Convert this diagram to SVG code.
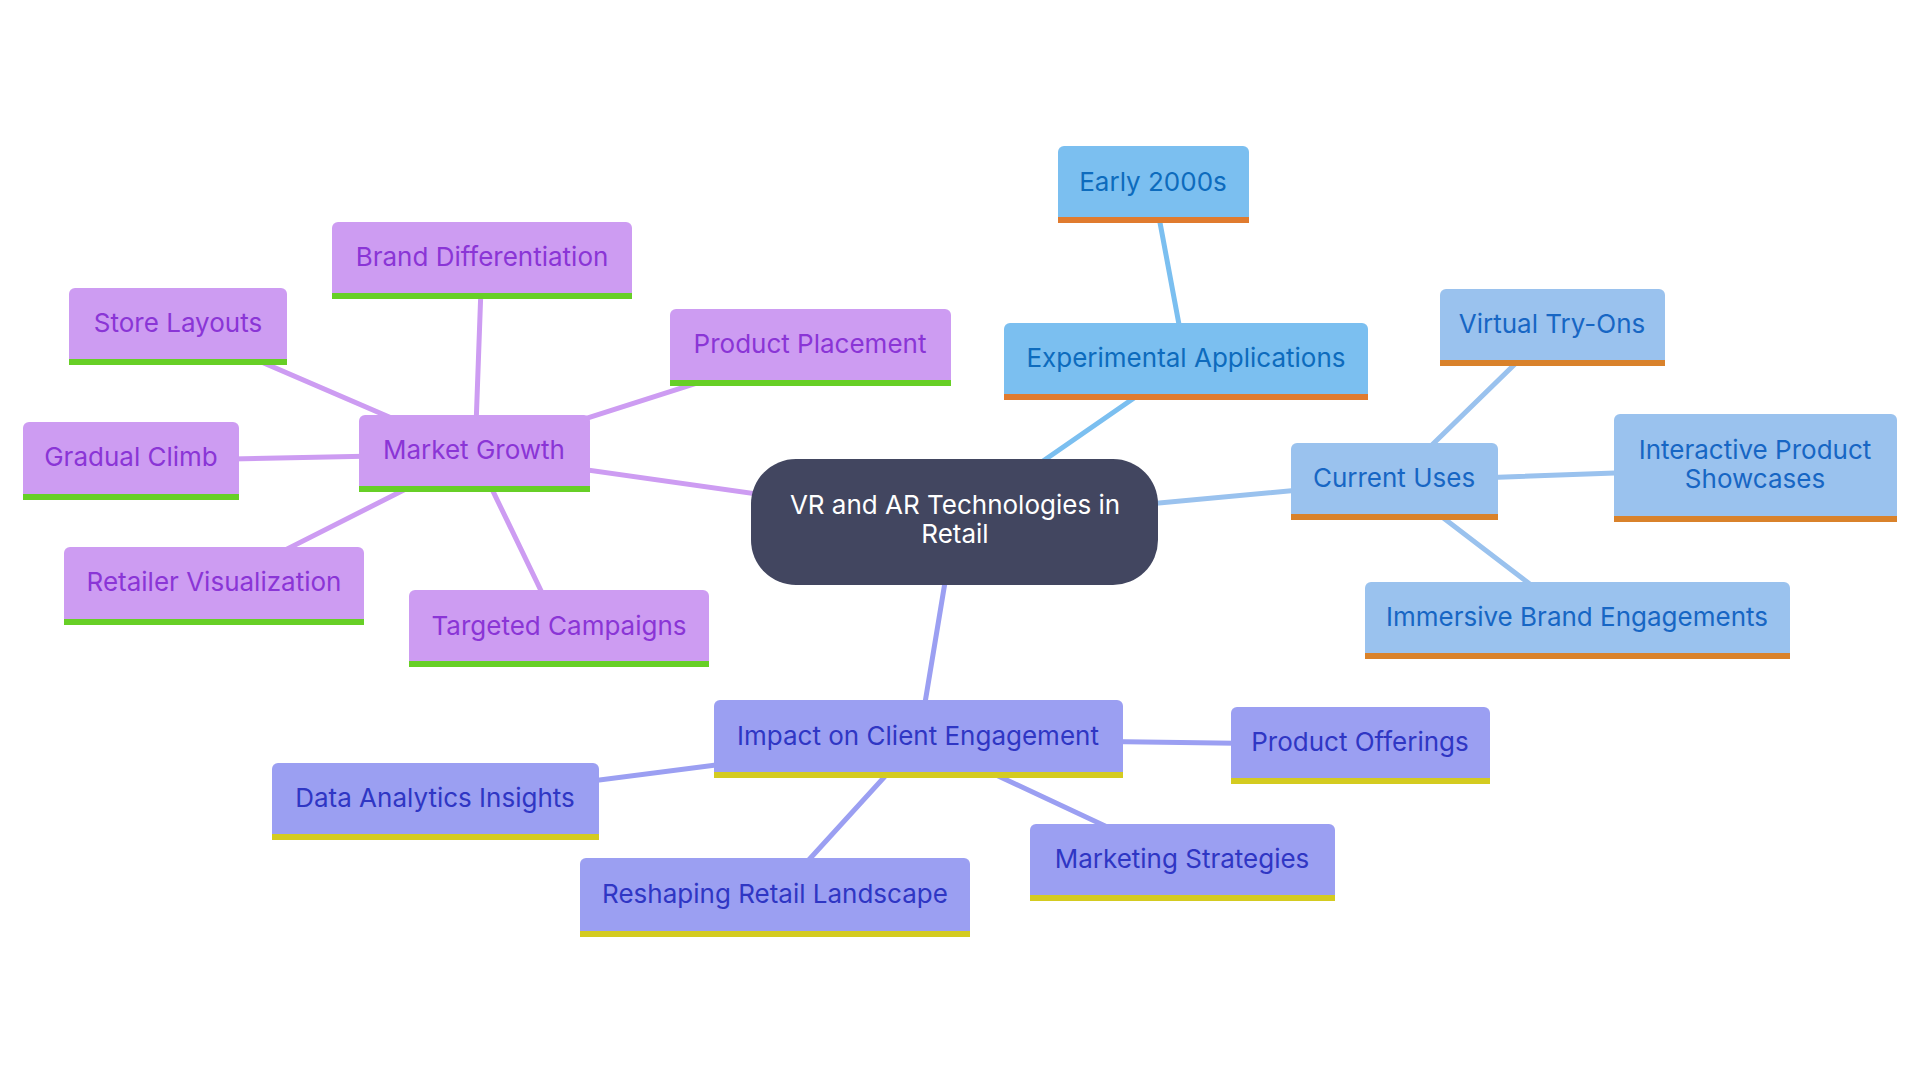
<svg xmlns="http://www.w3.org/2000/svg" width="1920" height="1080" viewBox="0 0 1920 1080">
<style>
text{font-family:Inter,"Noto Sans","Liberation Sans",sans-serif;font-size:26px;text-anchor:middle}
.e{fill:none;stroke-width:5;stroke-linecap:round}
.ep{stroke:#cd9cf2}.eb{stroke:#7bbff0}.el{stroke:#9ac2ee}.ei{stroke:#9b9ff2}
.p rect.b{fill:#cd9cf2}.p rect.u{fill:#67cf26}.p text{fill:#8a35d6}
.s rect.b{fill:#7bbff0}.s rect.u{fill:#e07b2f}.s text{fill:#0d6bbd}
.l rect.b{fill:#9ac2ee}.l rect.u{fill:#d9822b}.l text{fill:#1766c4}
.i rect.b{fill:#9b9ff2}.i rect.u{fill:#d4cb20}.i text{fill:#2f36c4}
</style>
<rect width="1920" height="1080" fill="#ffffff"/>
<g id="connectors">
<line class="e ep" x1="955" y1="522" x2="475" y2="454"/>
<line class="e eb" x1="955" y1="522" x2="1186" y2="362"/>
<line class="e el" x1="955" y1="522" x2="1395" y2="481"/>
<line class="e ei" x1="955" y1="522" x2="919" y2="739"/>
<line class="e eb" x1="1153" y1="185" x2="1186" y2="362"/>
<line class="e el" x1="1395" y1="481" x2="1552" y2="328"/>
<line class="e el" x1="1395" y1="481" x2="1755" y2="468"/>
<line class="e el" x1="1395" y1="481" x2="1577" y2="620"/>
<line class="e ep" x1="475" y1="454" x2="482" y2="260"/>
<line class="e ep" x1="475" y1="454" x2="178" y2="326"/>
<line class="e ep" x1="475" y1="454" x2="810" y2="347"/>
<line class="e ep" x1="475" y1="454" x2="131" y2="461"/>
<line class="e ep" x1="475" y1="454" x2="214" y2="586"/>
<line class="e ep" x1="475" y1="454" x2="559" y2="628"/>
<line class="e ei" x1="919" y1="739" x2="1360" y2="745"/>
<line class="e ei" x1="919" y1="739" x2="435" y2="801"/>
<line class="e ei" x1="919" y1="739" x2="775" y2="897"/>
<line class="e ei" x1="919" y1="739" x2="1182" y2="862"/>
</g>
<g id="root">
<rect x="751" y="459" width="407" height="126" rx="45" fill="#424660"/>
<text x="955" y="514" fill="#ffffff">VR and AR Technologies in</text>
<text x="955" y="543" fill="#ffffff">Retail</text>
</g>
<g id="n-market-growth" class="p"><rect class="b" x="359" y="415" width="231" height="77" rx="6"/><rect class="u" x="359" y="486" width="231" height="6"/><text x="474" y="459">Market Growth</text></g>
<g id="n-brand-diff" class="p"><rect class="b" x="332" y="222" width="300" height="77" rx="6"/><rect class="u" x="332" y="293" width="300" height="6"/><text x="482" y="266">Brand Differentiation</text></g>
<g id="n-store-layouts" class="p"><rect class="b" x="69" y="288" width="218" height="77" rx="6"/><rect class="u" x="69" y="359" width="218" height="6"/><text x="178" y="332">Store Layouts</text></g>
<g id="n-product-placement" class="p"><rect class="b" x="670" y="309" width="281" height="77" rx="6"/><rect class="u" x="670" y="380" width="281" height="6"/><text x="810" y="353">Product Placement</text></g>
<g id="n-gradual-climb" class="p"><rect class="b" x="23" y="422" width="216" height="78" rx="6"/><rect class="u" x="23" y="494" width="216" height="6"/><text x="131" y="466">Gradual Climb</text></g>
<g id="n-retailer-vis" class="p"><rect class="b" x="64" y="547" width="300" height="78" rx="6"/><rect class="u" x="64" y="619" width="300" height="6"/><text x="214" y="591">Retailer Visualization</text></g>
<g id="n-targeted" class="p"><rect class="b" x="409" y="590" width="300" height="77" rx="6"/><rect class="u" x="409" y="661" width="300" height="6"/><text x="559" y="635">Targeted Campaigns</text></g>
<g id="n-early" class="s"><rect class="b" x="1058" y="146" width="191" height="77" rx="6"/><rect class="u" x="1058" y="217" width="191" height="6"/><text x="1153" y="191">Early 2000s</text></g>
<g id="n-experimental" class="s"><rect class="b" x="1004" y="323" width="364" height="77" rx="6"/><rect class="u" x="1004" y="394" width="364" height="6"/><text x="1186" y="367">Experimental Applications</text></g>
<g id="n-current" class="l"><rect class="b" x="1291" y="443" width="207" height="77" rx="6"/><rect class="u" x="1291" y="514" width="207" height="6"/><text x="1394" y="487">Current Uses</text></g>
<g id="n-virtual" class="l"><rect class="b" x="1440" y="289" width="225" height="77" rx="6"/><rect class="u" x="1440" y="360" width="225" height="6"/><text x="1552" y="333">Virtual Try-Ons</text></g>
<g id="n-interactive" class="l"><rect class="b" x="1614" y="414" width="283" height="108" rx="6"/><rect class="u" x="1614" y="516" width="283" height="6"/><text x="1755" y="459">Interactive Product</text><text x="1755" y="488">Showcases</text></g>
<g id="n-immersive" class="l"><rect class="b" x="1365" y="582" width="425" height="77" rx="6"/><rect class="u" x="1365" y="653" width="425" height="6"/><text x="1577" y="626">Immersive Brand Engagements</text></g>
<g id="n-impact" class="i"><rect class="b" x="714" y="700" width="409" height="78" rx="6"/><rect class="u" x="714" y="772" width="409" height="6"/><text x="918" y="745">Impact on Client Engagement</text></g>
<g id="n-product-offerings" class="i"><rect class="b" x="1231" y="707" width="259" height="77" rx="6"/><rect class="u" x="1231" y="778" width="259" height="6"/><text x="1360" y="751">Product Offerings</text></g>
<g id="n-data-analytics" class="i"><rect class="b" x="272" y="763" width="327" height="77" rx="6"/><rect class="u" x="272" y="834" width="327" height="6"/><text x="435" y="807">Data Analytics Insights</text></g>
<g id="n-reshaping" class="i"><rect class="b" x="580" y="858" width="390" height="79" rx="6"/><rect class="u" x="580" y="931" width="390" height="6"/><text x="775" y="903">Reshaping Retail Landscape</text></g>
<g id="n-marketing" class="i"><rect class="b" x="1030" y="824" width="305" height="77" rx="6"/><rect class="u" x="1030" y="895" width="305" height="6"/><text x="1182" y="868">Marketing Strategies</text></g>
</svg>
